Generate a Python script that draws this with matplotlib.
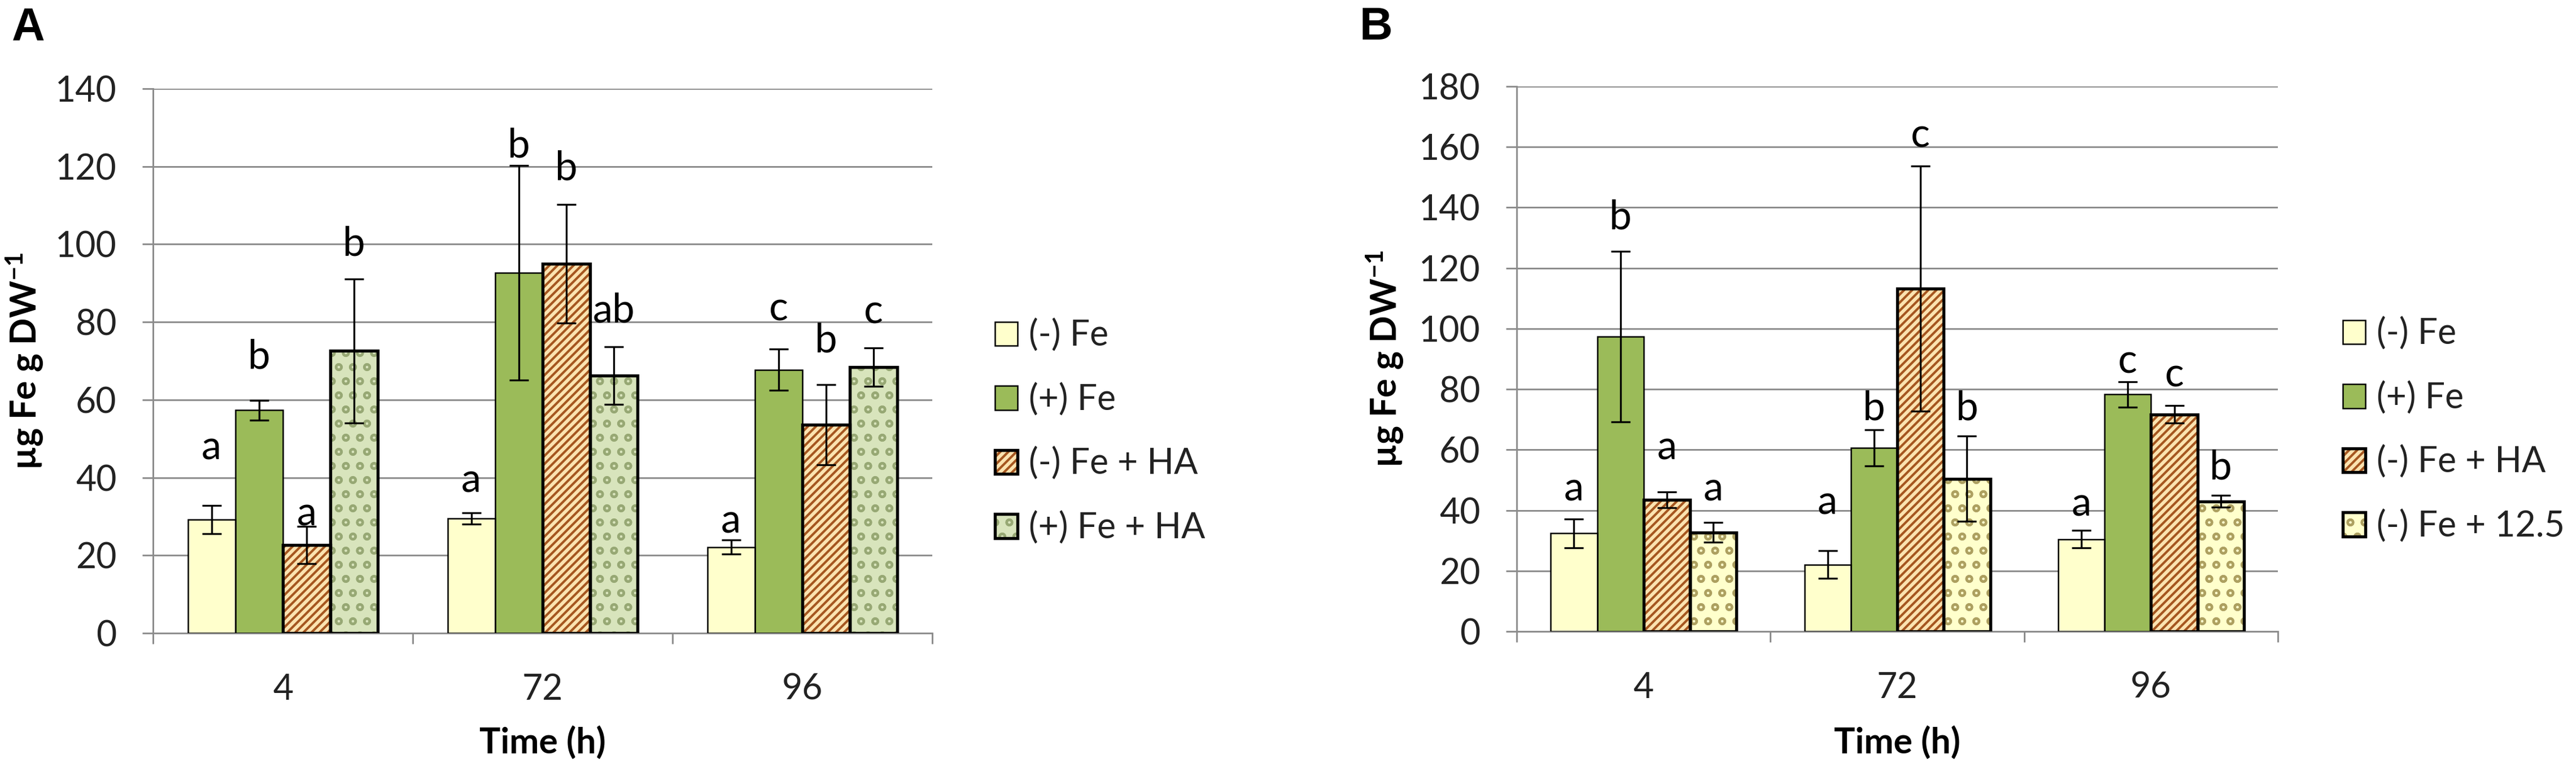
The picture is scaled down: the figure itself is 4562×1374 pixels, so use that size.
import numpy as np
import matplotlib
matplotlib.use("Agg")
import matplotlib.pyplot as plt
from matplotlib.patches import Patch

plt.rcParams['font.family'] = ['Lato', 'DejaVu Sans']
plt.rcParams['mathtext.fontset'] = 'custom'
plt.rcParams['mathtext.rm'] = 'Lato'
plt.rcParams['mathtext.bf'] = 'Lato:bold'
plt.rcParams['hatch.linewidth'] = 1.0

times = ['4', '72', '96']

# panel A data (ug Fe / g DW)
a_names = ['(-) Fe', '(+) Fe', '(-) Fe + HA', '(+) Fe + HA']
a_neg_fe = [29.2, 29.5, 22.1]
a_neg_fe_err = [3.7, 1.5, 1.8]
a_pos_fe = [57.3, 92.7, 67.7]
a_pos_fe_err = [2.6, 27.6, 5.3]
a_neg_fe_ha = [22.6, 95.0, 53.6]
a_neg_fe_ha_err = [4.8, 15.3, 10.3]
a_pos_fe_ha = [72.6, 66.2, 68.4]
a_pos_fe_ha_err = [18.5, 7.4, 4.9]
# significance letters and their heights
a_letters = [['a', 'a', 'a'], ['b', 'b', 'c'], ['a', 'b', 'b'], ['b', 'ab', 'c']]
a_letter_y = [[47.7, 39.2, 28.8], [71.0, 125.3, 83.3], [30.7, 119.6, 75.2], [100.0, 83.0, 82.6]]

# panel B data
b_names = ['(-) Fe', '(+) Fe', '(-) Fe + HA', '(-) Fe + 12.5']
b_neg_fe = [32.4, 22.1, 30.5]
b_neg_fe_err = [4.7, 4.5, 2.9]
b_pos_fe = [97.4, 60.6, 78.3]
b_pos_fe_err = [28.2, 6.0, 4.2]
b_neg_fe_ha = [43.4, 113.3, 71.7]
b_neg_fe_ha_err = [2.6, 40.5, 2.9]
b_neg_fe_125 = [32.7, 50.4, 43.0]
b_neg_fe_125_err = [3.3, 14.1, 1.9]
b_letters = [['a', 'a', 'a'], ['b', 'b', 'c'], ['a', 'c', 'c'], ['a', 'b', 'b']]
b_letter_y = [[47.0, 42.6, 42.0], [136.7, 73.6, 89.1], [60.6, 163.7, 84.6], [47.0, 73.6, 54.1]]

# bar styles: facecolor, pattern colour, hatch, outline width
st_neg = dict(fc='#FFFFCC', hc='#FFFFCC', hatch=None, lw=0.6)
st_pos = dict(fc='#9BBB59', hc='#9BBB59', hatch=None, lw=0.6)
st_ha = dict(fc='#FBE3B0', hc='#A5561F', hatch='///////', lw=1.3)
st_posha = dict(fc='#D8E4BC', hc='#97A874', hatch='oo', lw=1.3)
st_125 = dict(fc='#FFFFCC', hc='#ADA060', hatch='oo', lw=1.3)

grey = '#8c8c8c'
txt = '#222222'
W = 0.183


def draw_panel(ax, series, errs, letters, letter_y, styles, ymax):
    x = np.arange(len(times))
    for i, (vals, err, st) in enumerate(zip(series, errs, styles)):
        xs = x + (i - 1.5) * W
        ax.bar(xs, vals, W, color=st['fc'], edgecolor=st['hc'], hatch=st['hatch'],
               linewidth=0, zorder=2)
        ax.bar(xs, vals, W, fill=False, edgecolor='black', linewidth=st['lw'], zorder=3)
        ax.errorbar(xs, vals, yerr=err, fmt='none', ecolor='black', elinewidth=0.8,
                    capsize=4, capthick=0.8, zorder=4)
        for xx, lab, ly in zip(xs, letters[i], letter_y[i]):
            ax.text(xx, ly, lab, ha='center', va='center', fontsize=17, color='black')

    ax.set_xlim(-0.5, len(times) - 0.5)
    ax.set_ylim(0, ymax)
    ax.set_yticks(np.arange(0, ymax + 1, 20))
    ax.set_xticks(x)
    ax.set_xticklabels(times)
    ax.set_xticks(np.arange(-0.5, len(times)), minor=True)
    ax.tick_params(axis='x', which='major', length=0, pad=17, labelsize=15, labelcolor=txt)
    ax.tick_params(axis='x', which='minor', length=4.5, width=0.7, color=grey)
    ax.tick_params(axis='y', length=4.5, width=0.7, color=grey, pad=11,
                   labelsize=15, labelcolor=txt)
    ax.set_axisbelow(True)
    ax.yaxis.grid(True, color=grey, linewidth=0.7)
    for s in ['top', 'right']:
        ax.spines[s].set_visible(False)
    for s in ['left', 'bottom']:
        ax.spines[s].set_color(grey)
        ax.spines[s].set_linewidth(0.7)
    ax.set_ylabel('µg Fe g DW$^{\\mathbf{-1}}$', fontsize=15, fontweight='bold',
                  color='black', va='center')
    ax.set_xlabel('Time (h)', fontsize=15, fontweight='bold', color='black', va='center')


def handles(styles):
    out = []
    for st in styles:
        out.append((Patch(facecolor=st['fc'], edgecolor=st['hc'], hatch=st['hatch'], linewidth=0),
                    Patch(facecolor='none', edgecolor='black', linewidth=st['lw'])))
    return out


fig = plt.figure(figsize=(4562 / 300, 1374 / 300), dpi=300)
axA = fig.add_axes([0.0594, 0.1841, 0.3025, 0.7016])
axB = fig.add_axes([0.5888, 0.1863, 0.2955, 0.7023])

stylesA = [st_neg, st_pos, st_ha, st_posha]
stylesB = [st_neg, st_pos, st_ha, st_125]

draw_panel(axA, [a_neg_fe, a_pos_fe, a_neg_fe_ha, a_pos_fe_ha],
           [a_neg_fe_err, a_pos_fe_err, a_neg_fe_ha_err, a_pos_fe_ha_err],
           a_letters, a_letter_y, stylesA, 140)
draw_panel(axB, [b_neg_fe, b_pos_fe, b_neg_fe_ha, b_neg_fe_125],
           [b_neg_fe_err, b_pos_fe_err, b_neg_fe_ha_err, b_neg_fe_125_err],
           b_letters, b_letter_y, stylesB, 180)

axA.yaxis.set_label_coords(-0.1645, 0.5)
axB.yaxis.set_label_coords(-0.173, 0.5)
axA.xaxis.set_label_coords(0.5, -0.201)
axB.xaxis.set_label_coords(0.5, -0.204)

leg_kw = dict(loc='center left', frameon=False, fontsize=15, handlelength=0.64,
              handleheight=0.67, handletextpad=0.32, labelspacing=0.87,
              borderpad=0, borderaxespad=0, labelcolor=txt)
fig.legend(handles(stylesA), a_names, bbox_to_anchor=(0.3862, 0.4436), **leg_kw)
fig.legend(handles(stylesB), b_names, bbox_to_anchor=(0.9095, 0.4458), **leg_kw)

fig.text(0.011, 0.9643, 'A', fontsize=19.5, fontweight='bold', family='Liberation Sans',
         ha='center', va='center')
fig.text(0.5342, 0.9643, 'B', fontsize=19.5, fontweight='bold', family='Liberation Sans',
         ha='center', va='center')

fig.savefig('out.png', dpi=300)
